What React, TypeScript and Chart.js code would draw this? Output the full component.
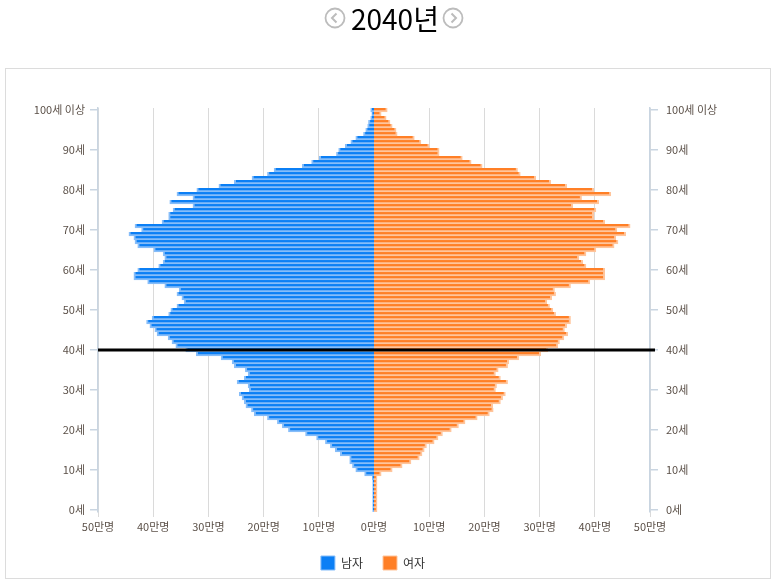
import React, { useEffect, useRef } from 'react';
import { Chart, registerables } from 'chart.js';

Chart.register(...registerables);

const FONT = "'Noto Sans CJK KR', 'Noto Sans', sans-serif";

const YEAR_TITLE = '2040년';

// ages 0 .. 100 (100 = "100세 이상")
const ages: number[] = Array.from({ length: 101 }, (_, i) => i);

// population in 만명, index = age
const male: number[] = [
  0.25, 0.25, 0.25, 0.25, 0.25, 0.25, 0.25, 0.25, 0.3, 1.7,
  3.3, 3.9, 4.4, 4.4, 6.1, 7.0, 7.9, 8.8, 10.4, 12.4,
  15.5, 16.6, 17.5, 19.3, 21.7, 22.2, 23.2, 23.5, 23.9, 24.4,
  22.6, 22.8, 24.8, 23.5, 22.8, 23.3, 25.3, 25.7, 27.7, 32.2,
  34.1, 35.9, 36.6, 37.3, 39.3, 39.7, 40.6, 41.2, 40.2, 37.2,
  36.8, 35.7, 34.4, 34.8, 35.7, 35.3, 37.9, 41.0, 43.5, 43.5,
  42.8, 39.0, 38.2, 37.9, 38.2, 39.9, 42.8, 43.3, 43.5, 44.4,
  42.1, 43.3, 38.4, 37.2, 37.2, 36.4, 32.8, 37.0, 32.8, 35.7,
  32.1, 28.1, 25.3, 22.1, 19.3, 18.1, 13.0, 11.3, 9.9, 6.8,
  6.4, 5.2, 4.2, 3.3, 1.9, 1.5, 1.15, 1.0, 0.6, 0.4,
  0.6,
];

const female: number[] = [
  0.55, 0.55, 0.55, 0.55, 0.55, 0.55, 0.55, 0.55, 0.55, 1.3,
  3.3, 5.1, 6.7, 8.2, 8.7, 9.1, 9.5, 10.9, 11.6, 12.4,
  14.0, 15.3, 16.5, 18.7, 20.9, 21.6, 21.5, 22.9, 23.3, 23.8,
  22.0, 22.2, 24.2, 22.9, 22.0, 22.5, 24.2, 24.4, 26.2, 30.2,
  31.5, 33.3, 33.6, 34.4, 35.1, 34.5, 34.9, 35.6, 35.6, 32.9,
  32.4, 31.8, 31.3, 32.2, 32.9, 32.7, 35.6, 39.1, 41.8, 41.8,
  41.8, 38.4, 37.8, 37.1, 38.4, 40.2, 43.5, 44.2, 43.8, 45.6,
  44.0, 46.4, 41.8, 39.8, 39.8, 40.2, 36.0, 40.7, 37.6, 42.9,
  39.8, 34.9, 32.0, 29.3, 26.5, 26.0, 19.6, 17.6, 16.0, 11.8,
  11.8, 10.0, 8.5, 7.3, 4.2, 4.0, 3.3, 2.9, 2.2, 1.3,
  2.4,
];

const yTickValues: number[] = [0, 10, 20, 30, 40, 50, 60, 70, 80, 90, 100];
const yTickLabels: string[] = ['0세', '10세', '20세', '30세', '40세', '50세', '60세', '70세', '80세', '90세', '100세 이상'];
const xTickValues: number[] = [-50, -40, -30, -20, -10, 0, 10, 20, 30, 40, 50];
const xTickLabels: string[] = ['50만명', '40만명', '30만명', '20만명', '10만명', '0만명', '10만명', '20만명', '30만명', '40만명', '50만명'];

const MEDIAN_AGE = 40;

const MALE_DARK = '#0b7ff5';
const MALE_LIGHT = '#86bdf9';
const FEMALE_DARK = '#ff7f26';
const FEMALE_LIGHT = '#ffc59c';

const medianLine = {
  id: 'medianLine',
  afterDatasetsDraw(chart: any) {
    const { ctx, chartArea, scales } = chart;
    const y = scales.y.getPixelForValue(MEDIAN_AGE);
    ctx.save();
    ctx.strokeStyle = '#000';
    ctx.lineWidth = 3;
    ctx.beginPath();
    ctx.moveTo(chartArea.left, y);
    ctx.lineTo(chartArea.right + 5, y);
    ctx.stroke();
    ctx.restore();
  },
};

function ArrowCircle({ dir, left }: { dir: 'l' | 'r'; left: number }) {
  return (
    <svg
      width={22}
      height={22}
      viewBox="0 0 22 22"
      style={{ position: 'absolute', left, top: 7 }}
    >
      <circle cx={11} cy={11} r={9.5} fill="none" stroke="#bcbcbc" strokeWidth={1.8} />
      {dir === 'l' ? (
        <polyline points="12.5,6.5 8,11 12.5,15.5" fill="none" stroke="#bcbcbc" strokeWidth={2} />
      ) : (
        <polyline points="9.5,6.5 14,11 9.5,15.5" fill="none" stroke="#bcbcbc" strokeWidth={2} />
      )}
    </svg>
  );
}

export default function App() {
  const canvasRef = useRef<HTMLCanvasElement | null>(null);

  useEffect(() => {
    if (!canvasRef.current) return;
    const yAxisCommon = {
      type: 'linear' as const,
      min: -0.5,
      max: 100.5,
      offset: false,
      afterBuildTicks: (s: any) => {
        s.ticks = yTickValues.map((v) => ({ value: v }));
      },
      grid: { drawOnChartArea: false, offset: false, color: '#c9d5e1', tickLength: 8, lineWidth: 1.5 },
      border: { color: '#c9d5e1', width: 1.5 },
    };
    const chart = new Chart(canvasRef.current, {
      type: 'bar',
      data: {
        datasets: [
          {
            label: '남자',
            data: ages.map((a, i) => ({ x: -male[i], y: a })),
            backgroundColor: MALE_DARK,
            borderColor: MALE_LIGHT,
            borderWidth: { top: 0, right: 0, bottom: 2, left: 2 },
            borderSkipped: false,
            grouped: false,
            barPercentage: 1,
            categoryPercentage: 1,
          } as any,
          {
            label: '여자',
            data: ages.map((a, i) => ({ x: female[i], y: a })),
            backgroundColor: FEMALE_DARK,
            borderColor: FEMALE_LIGHT,
            borderWidth: { top: 0, right: 2, bottom: 2, left: 0 },
            borderSkipped: false,
            grouped: false,
            barPercentage: 1,
            categoryPercentage: 1,
          } as any,
        ],
      },
      options: {
        indexAxis: 'y',
        animation: false,
        responsive: false,
        maintainAspectRatio: false,
        layout: { padding: { top: 108, left: 0, right: 32, bottom: 4 } },
        font: { family: FONT },
        scales: {
          x: {
            type: 'linear',
            min: -50,
            max: 50,
            afterBuildTicks: (s: any) => {
              s.ticks = xTickValues.map((v) => ({ value: v }));
            },
            afterFit: (s: any) => {
              s.height = 24;
            },
            ticks: {
              callback: (_v: any, i: number) => xTickLabels[i],
              color: '#5b5048',
              font: { size: 11, family: FONT },
              padding: 3,
              maxRotation: 0,
              autoSkip: false,
            },
            grid: {
              color: '#dadada',
              tickLength: 5,
              lineWidth: (ctx: any) => (ctx.tick && ctx.tick.value === 0 ? 0 : 1),
            },
            border: { display: false },
          },
          y: {
            ...yAxisCommon,
            position: 'left',
            afterFit: (s: any) => {
              s.width = 98;
            },
            ticks: {
              callback: (_v: any, i: number) => yTickLabels[i],
              color: '#5b5048',
              font: { size: 11, family: FONT },
              padding: 5,
              autoSkip: false,
            },
          } as any,
          y2: {
            ...yAxisCommon,
            position: 'right',
            afterFit: (s: any) => {
              s.width = 96;
            },
            ticks: {
              callback: (_v: any, i: number) => yTickLabels[i],
              color: '#5b5048',
              font: { size: 11, family: FONT },
              padding: 8,
              autoSkip: false,
            },
          } as any,
        },
        plugins: {
          legend: {
            position: 'bottom',
            labels: {
              boxWidth: 14,
              boxHeight: 14,
              padding: 20,
              color: '#333',
              font: { size: 12, family: FONT },
            },
          },
          tooltip: { enabled: false },
        },
      } as any,
      plugins: [medianLine],
    });
    return () => chart.destroy();
  }, []);

  return (
    <div style={{ position: 'fixed', left: 0, top: 0, width: 778, height: 584, background: '#fff', fontFamily: FONT }}>
      <ArrowCircle dir="l" left={324} />
      <div
        style={{
          position: 'absolute',
          left: 351,
          top: 0,
          height: 37,
          lineHeight: '37px',
          fontSize: 28,
          color: '#000',
          whiteSpace: 'nowrap',
        }}
      >
        {YEAR_TITLE}
      </div>
      <ArrowCircle dir="r" left={442} />
      <div
        style={{
          position: 'absolute',
          left: 5,
          top: 68,
          width: 764,
          height: 509,
          border: '1px solid #dcdcdc',
        }}
      />
      <canvas
        ref={canvasRef}
        width={778}
        height={584}
        style={{ position: 'absolute', left: 0, top: 0, width: 778, height: 584 }}
      />
    </div>
  );
}
